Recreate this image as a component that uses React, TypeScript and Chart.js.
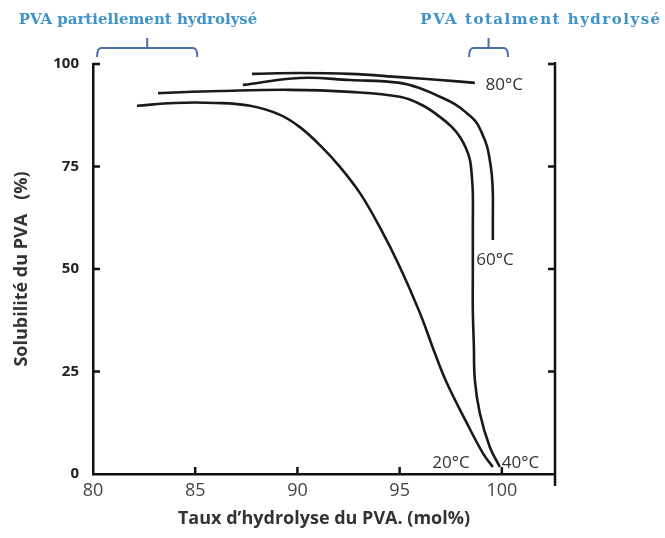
import { useEffect, useRef } from "react";
import { Chart, registerables } from "chart.js";

Chart.register(...registerables);

const xTicks = [80, 85, 90, 95, 100];
const yTicks = [0, 25, 50, 75, 100];

const x20 = [82.15, 84.0, 85.97, 87.68, 89.15, 90.12, 91.1, 92.08, 93.06, 94.03, 95.01, 95.99, 96.72, 97.31, 98.29, 99.07, 99.56];
const y20 = [89.8, 90.5, 90.5, 89.8, 87.6, 84.6, 80.2, 74.9, 68.5, 60.2, 50.5, 39.3, 29.5, 22.2, 12.4, 5.1, 1.7];

const x40 = [83.18, 86.21, 89.63, 92.57, 95.01, 96.09, 96.97, 97.56, 97.95, 98.24, 98.44, 98.53, 98.58, 98.58, 98.58, 98.58, 98.63, 98.68, 98.92, 99.41, 99.9];
const y40 = [92.9, 93.4, 93.7, 93.2, 92.0, 90.0, 87.1, 84.6, 82.2, 79.5, 76.6, 72.7, 68.5, 59.5, 49.8, 40.0, 31.5, 22.9, 14.9, 6.6, 1.7];

const x60 = [87.33, 90.12, 92.57, 95.01, 96.09, 96.97, 97.7, 98.29, 98.73, 99.02, 99.27, 99.41, 99.51, 99.56, 99.56, 99.56];
const y60 = [94.9, 96.6, 96.1, 95.4, 93.9, 92.0, 90.2, 88.0, 85.9, 83.2, 80.0, 76.6, 72.9, 68.5, 63.2, 57.1];

const x80 = [87.78, 90.12, 92.57, 95.01, 96.97, 98.68];
const y80 = [97.6, 97.8, 97.6, 96.8, 96.1, 95.4];

const seriesNames = ["20°C", "40°C", "60°C", "80°C"];
const seriesX = [x20, x40, x60, x80];
const seriesY = [y20, y40, y60, y80];
const labelX = [96.6, 100.0, 98.75, 99.2];
const labelY = [2.7, 2.7, 52.2, 94.9];

const braceLabels = ["PVA partiellement hydrolysé", "PVA totalment hydrolysé"];
const braceStart = [80.2, 98.4];
const braceEnd = [85.1, 100.3];

const xTitle = "Taux d’hydrolyse du PVA. (mol%)";
const yTitle = "Solubilité du PVA   (%)";

const FONT = "'Open Sans', 'DejaVu Sans', sans-serif";

const decorPlugin = {
  id: "decor",
  afterDraw(chart: any) {
    const { ctx, chartArea, scales } = chart;
    const xs = scales.x;
    const ys = scales.y;
    ctx.save();
    ctx.strokeStyle = "#111";
    ctx.lineWidth = 2.5;
    ctx.beginPath();
    xTicks.forEach((v) => {
      if (v === xs.min) return;
      const px = xs.getPixelForValue(v);
      ctx.moveTo(px, chartArea.bottom);
      ctx.lineTo(px, chartArea.bottom - 7);
    });
    yTicks.forEach((v) => {
      if (v === ys.min) return;
      const py = ys.getPixelForValue(v);
      ctx.moveTo(chartArea.left, py);
      ctx.lineTo(chartArea.left + 7, py);
    });
    ctx.moveTo(chartArea.right, chartArea.top - 2);
    ctx.lineTo(chartArea.right, chartArea.bottom + 12);
    yTicks.forEach((v) => {
      if (v === ys.min) return;
      const py = ys.getPixelForValue(v);
      ctx.moveTo(chartArea.right, py);
      ctx.lineTo(chartArea.right - 7, py);
    });
    ctx.stroke();

    ctx.fillStyle = "#333";
    ctx.font = `17px ${FONT}`;
    ctx.textAlign = "left";
    ctx.textBaseline = "middle";
    seriesNames.forEach((n, i) => {
      ctx.fillText(n, xs.getPixelForValue(labelX[i]), ys.getPixelForValue(labelY[i]));
    });

    ctx.strokeStyle = "#4a6ea8";
    ctx.lineWidth = 2;
    braceStart.forEach((s, i) => {
      const a = xs.getPixelForValue(s);
      const b = xs.getPixelForValue(braceEnd[i]);
      const m = (a + b) / 2;
      const yH = 48;
      ctx.beginPath();
      ctx.moveTo(a, yH + 9);
      ctx.quadraticCurveTo(a, yH, a + 4, yH);
      ctx.lineTo(b - 4, yH);
      ctx.quadraticCurveTo(b, yH, b, yH + 9);
      ctx.moveTo(m, yH);
      ctx.lineTo(m, yH - 10);
      ctx.stroke();
    });
    ctx.fillStyle = "#3f93c8";
    ctx.font = `bold 15px 'DejaVu Serif', 'Liberation Serif', serif`;
    ctx.textAlign = "center";
    ctx.textBaseline = "middle";
    const centers = [138, 541];
    const spacing = ["0px", "1.5px"];
    braceLabels.forEach((t, i) => {
      (ctx as any).letterSpacing = spacing[i];
      ctx.fillText(t, centers[i], 20);
    });
    (ctx as any).letterSpacing = "0px";
    ctx.restore();
  },
};

export default function App() {
  const ref = useRef<HTMLCanvasElement>(null);
  useEffect(() => {
    if (!ref.current) return;
    const chart = new Chart(ref.current, {
      type: "scatter",
      data: {
        datasets: seriesNames.map((n, i) => ({
          label: n,
          data: seriesX[i].map((x, j) => ({ x, y: seriesY[i][j] })),
          showLine: true,
          borderColor: "#1a1a1a",
          borderWidth: 2.6,
          pointRadius: 0,
          tension: 0.4,
          fill: false,
        })),
      },
      options: {
        responsive: false,
        animation: false,
        devicePixelRatio: 1,
        layout: { padding: { left: 0, top: 64, right: 110, bottom: 0 } },
        plugins: { legend: { display: false }, tooltip: { enabled: false } },
        scales: {
          x: {
            type: "linear",
            min: 80,
            max: 102.6,
            afterBuildTicks: (s: any) => {
              s.ticks = xTicks.map((v) => ({ value: v }));
            },
            afterFit: (s: any) => {
              s.height = 64;
            },
            grid: { display: false, drawTicks: false },
            border: { display: true, color: "#111", width: 2.5 },
            ticks: {
              padding: 6,
              color: "#444",
              font: { family: FONT, size: 18 },
            },
            title: {
              display: true,
              text: xTitle,
              color: "#333",
              font: { family: FONT, size: 18, weight: "bold" },
              padding: { top: 0, bottom: 8 },
            },
          },
          y: {
            type: "linear",
            min: 0,
            max: 100,
            afterBuildTicks: (s: any) => {
              s.ticks = yTicks.map((v) => ({ value: v }));
            },
            afterFit: (s: any) => {
              s.width = 93;
            },
            grid: { display: false, drawTicks: false },
            border: { display: true, color: "#111", width: 2.5 },
            ticks: {
              padding: 14,
              color: "#222",
              font: { family: FONT, size: 15, weight: "bold" },
            },
            title: {
              display: true,
              text: yTitle,
              color: "#333",
              font: { family: FONT, size: 18, weight: "bold" },
              padding: { top: 11, bottom: 0 },
            },
          },
        },
      },
      plugins: [decorPlugin],
    });
    return () => chart.destroy();
  }, []);
  return (
    <div style={{ position: "fixed", left: 0, top: 0, width: 665, height: 538, background: "#fff" }}>
      <canvas ref={ref} width={665} height={538} />
    </div>
  );
}
